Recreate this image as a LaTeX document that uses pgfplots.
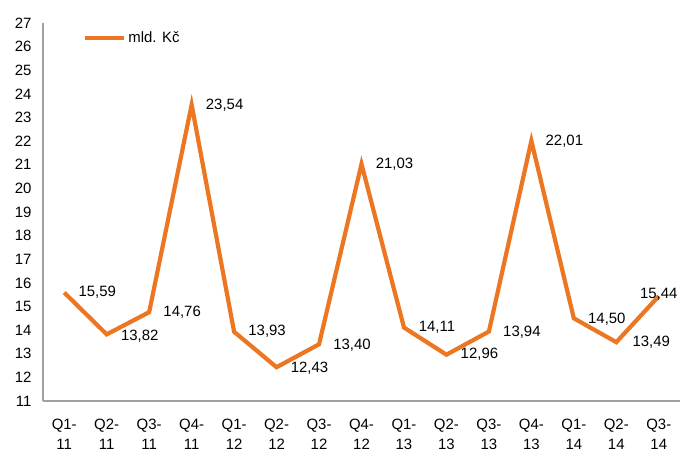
\documentclass[border=0pt]{standalone}
\usepackage{fontspec}
\setmainfont{Liberation Sans}
\usepackage{pgfplots}
\usepackage{pgfplotstable}
\pgfplotsset{compat=1.18}

\definecolor{kcorange}{RGB}{236,118,33}
\definecolor{axgray}{RGB}{160,160,160}

% quarterly values, label offsets in bp
\pgfplotstableread{
x y lab dx dy
0 15.59 15,59 33 0
1 13.82 13,82 33 -2
2 14.76 14,76 33 0
3 23.54 23,54 33 0
4 13.93 13,93 33 1
5 12.43 12,43 33 -1
6 13.40 13,40 33 -1
7 21.03 21,03 33 0
8 14.11 14,11 33 0
9 12.96 12,96 33 0
10 13.94 13,94 33 -1
11 22.01 22,01 33 0
12 14.50 14,50 33 -1
13 13.49 13,49 35 0
14 15.44 15,44 0 2
}\kvartaly

\begin{document}
\begin{tikzpicture}
\path[use as bounding box] (-43bp,-58bp) rectangle (645bp,401bp);
\begin{axis}[
  scale only axis,
  width=637bp, height=378bp,
  xmin=-0.5, xmax=14.5,
  ymin=11, ymax=27,
  ytick distance=1,
  xtick={0,...,14},
  xticklabels={{Q1-\\11},{Q2-\\11},{Q3-\\11},{Q4-\\11},{Q1-\\12},{Q2-\\12},{Q3-\\12},{Q4-\\12},{Q1-\\13},{Q2-\\13},{Q3-\\13},{Q4-\\13},{Q1-\\14},{Q2-\\14},{Q3-\\14}},
  axis x line*=bottom, axis y line*=left,
  axis line style={draw=axgray, line width=1.3bp, -},
  major tick length=0pt,
  /pgf/number format/assume math mode=true,
  every tick label/.append style={font=\fontsize{15}{20}\selectfont},
  xticklabel style={align=center, yshift=-15bp},
  yticklabel style={xshift=-8bp},
  clip=false,
  legend style={at={(axis description cs:0.063,0.96)}, anchor=west, draw=none, fill=none,
    inner sep=0pt, font=\fontsize{15}{18}\selectfont},
  legend image code/.code={\draw[kcorange, line width=4bp] (0bp,0bp) -- (39bp,0bp);},
]
\addplot[kcorange, line width=4.2bp, line join=miter,
  point meta=explicit symbolic,
  visualization depends on={\thisrow{dx}\as\lbdx},
  visualization depends on={\thisrow{dy}\as\lbdy},
  nodes near coords,
  every node near coord/.append style={anchor=center, xshift=\lbdx bp, yshift=\lbdy bp, text=black,
    font=\fontsize{15}{18}\selectfont},
] table[x=x, y=y, meta=lab] {\kvartaly};
\addlegendentry{mld. Kč}
\end{axis}
\end{tikzpicture}
\end{document}
